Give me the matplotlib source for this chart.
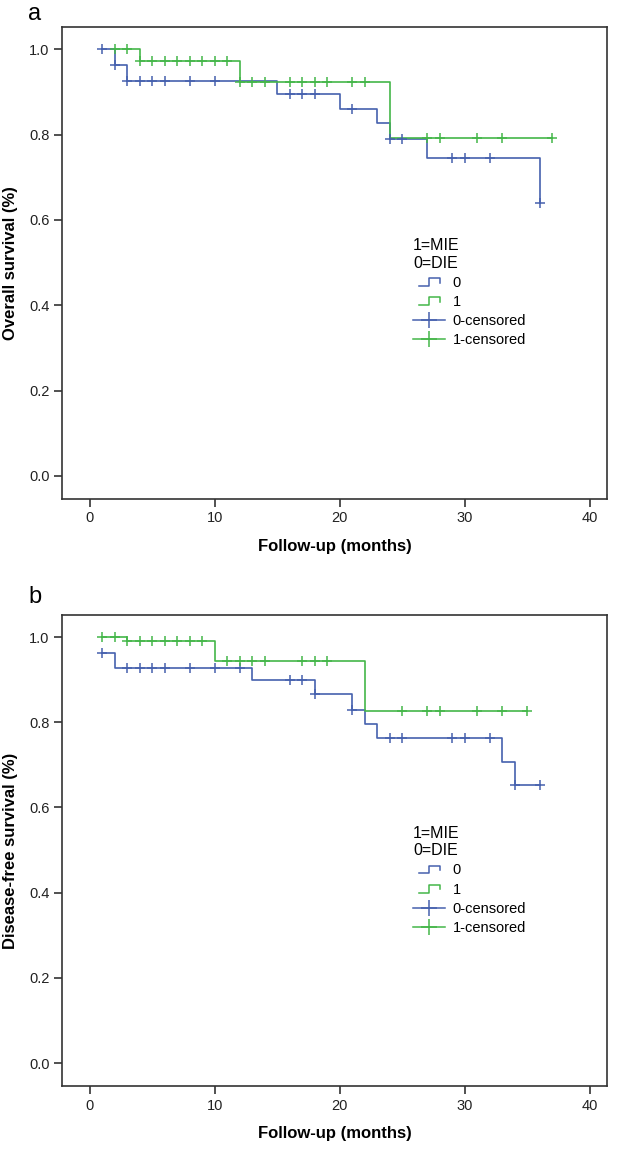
import numpy as np
import matplotlib
matplotlib.use("Agg")
import matplotlib.pyplot as plt
from matplotlib.lines import Line2D
from matplotlib.legend_handler import HandlerBase

plt.rcParams['font.family'] = ['Liberation Sans', 'DejaVu Sans']

# ---------------- data ----------------
# Panel a: overall survival
os_die_times = [1, 2, 3, 15, 20, 23, 24, 27, 36]
os_die_surv = [1.0, 0.963, 0.926, 0.896, 0.860, 0.826, 0.790, 0.745, 0.640]
os_die_cens = [1, 2, 3, 4, 5, 6, 8, 10, 16, 17, 18, 21, 24, 25, 29, 30, 32, 36]

os_mie_times = [2, 4, 12, 24, 37]
os_mie_surv = [1.0, 0.973, 0.923, 0.791, 0.791]
os_mie_cens = [2, 3, 4, 5, 6, 7, 8, 9, 10, 11, 12, 13, 14, 16, 17, 18, 19,
               21, 22, 27, 28, 31, 33, 37]

# Panel b: disease-free survival
dfs_die_times = [1, 2, 13, 18, 21, 22, 23, 33, 34, 36]
dfs_die_surv = [0.963, 0.927, 0.900, 0.866, 0.830, 0.796, 0.762, 0.707, 0.652, 0.652]
dfs_die_cens = [1, 3, 4, 5, 6, 8, 10, 12, 16, 17, 18, 21, 24, 25, 29, 30, 32, 34, 36]

dfs_mie_times = [1, 3, 10, 22, 35]
dfs_mie_surv = [1.0, 0.990, 0.944, 0.826, 0.826]
dfs_mie_cens = [1, 2, 3, 4, 5, 6, 7, 8, 9, 11, 12, 13, 14, 17, 18, 19,
                25, 27, 28, 31, 33, 35]

x_ticks = [0, 10, 20, 30, 40]
y_ticks = [0.0, 0.2, 0.4, 0.6, 0.8, 1.0]
legend_labels = ['0', '1', '0-censored', '1-censored']
legend_title = '1=MIE\n0=DIE'

BLUE = '#4661AE'
GREEN = '#44B649'
SPINE = '#333333'


def surv_at(times, surv, t):
    idx = np.searchsorted(np.asarray(times), t, side='right') - 1
    return np.asarray(surv)[np.clip(idx, 0, len(surv) - 1)]


class StepHandler(HandlerBase):
    def create_artists(self, legend, orig_handle, xdescent, ydescent,
                       width, height, fontsize, trans):
        x0 = -xdescent + width * 0.2
        w = width * 0.65
        y0 = -ydescent
        lo, hi, mid = y0 + height * 0.1, y0 + height * 0.85, y0 + height * 0.4
        xs = [x0, x0 + w * 0.45, x0 + w * 0.45, x0 + w, x0 + w]
        ys = [lo, lo, hi, hi, mid]
        ln = Line2D(xs, ys, color=orig_handle.get_color(), lw=1.1,
                    transform=trans)
        return [ln]


def panel(ax, d_t, d_s, d_c, m_t, m_s, m_c, ylabel):
    ax.plot(d_t, d_s, drawstyle='steps-post', color=BLUE, lw=1.2)
    ax.plot(m_t, m_s, drawstyle='steps-post', color=GREEN, lw=1.2)
    ax.plot(d_c, surv_at(d_t, d_s, d_c), ls='none', marker='+', ms=7.5,
            mew=1.1, color=BLUE)
    ax.plot(m_c, surv_at(m_t, m_s, m_c), ls='none', marker='+', ms=7.5,
            mew=1.1, color=GREEN)
    ax.set_xlim(-2.24, 41.4)
    ax.set_ylim(-0.054, 1.052)
    ax.set_xticks(x_ticks)
    ax.set_yticks(y_ticks)
    ax.set_yticklabels([f'{v:.1f}' for v in y_ticks])
    for s in ax.spines.values():
        s.set_color(SPINE)
        s.set_linewidth(1.2)
    ax.tick_params(direction='out', length=6, width=1.2, color=SPINE,
                   labelsize=10.5, labelcolor='#222222', pad=3)
    ax.set_xlabel('Follow-up (months)', fontsize=12, fontweight='bold',
                  labelpad=10)
    ax.set_ylabel(ylabel, fontsize=12, fontweight='bold', labelpad=8)

    h = [Line2D([], [], color=BLUE), Line2D([], [], color=GREEN),
         Line2D([], [], color=BLUE, marker='+', ls='-', ms=11, mew=1.1, lw=1.1),
         Line2D([], [], color=GREEN, marker='+', ls='-', ms=11, mew=1.1, lw=1.1)]
    leg = ax.legend(h, legend_labels, title=legend_title,
                    handler_map={h[0]: StepHandler(), h[1]: StepHandler()},
                    loc='upper left', bbox_to_anchor=(0.62, 0.58),
                    frameon=False, fontsize=10.5, title_fontsize=11.5,
                    handlelength=2.2, handletextpad=0.5, labelspacing=0.35)
    leg._legend_box.align = 'left'


fig = plt.figure(figsize=(6.22, 11.54), dpi=100)
ax1 = fig.add_axes([62 / 622, 1 - 499 / 1154, 545 / 622, 472 / 1154])
ax2 = fig.add_axes([62 / 622, 1 - 1086 / 1154, 545 / 622, 471 / 1154])

panel(ax1, os_die_times, os_die_surv, os_die_cens,
      os_mie_times, os_mie_surv, os_mie_cens, 'Overall survival (%)')
panel(ax2, dfs_die_times, dfs_die_surv, dfs_die_cens,
      dfs_mie_times, dfs_mie_surv, dfs_mie_cens, 'Disease-free survival (%)')

fig.text(28 / 622, 1 - 20 / 1154, 'a', fontsize=17, ha='left', va='baseline')
fig.text(28 / 622, 1 - 603 / 1154, 'b', fontsize=17, ha='left', va='baseline')

fig.savefig('out.png', dpi=100)
